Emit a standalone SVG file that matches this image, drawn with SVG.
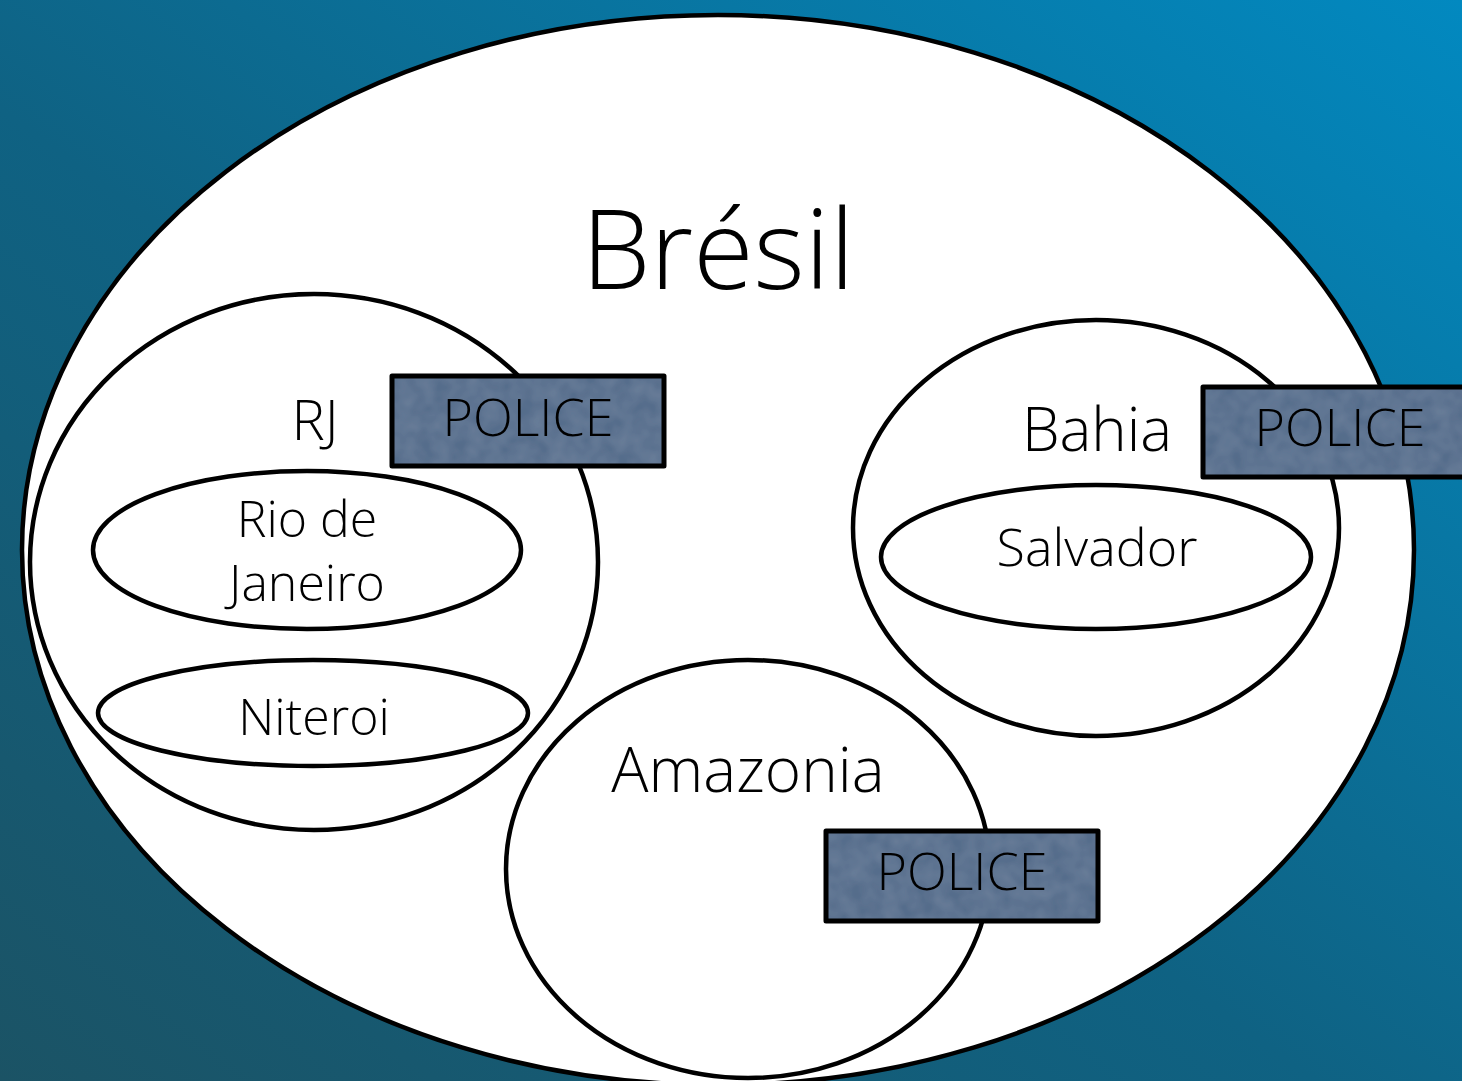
<svg xmlns="http://www.w3.org/2000/svg" width="1462" height="1081" viewBox="0 0 1462 1081">
<defs>
<linearGradient id="bg" x1="0" y1="1" x2="1" y2="0">
<stop offset="0" stop-color="#1b5365"/>
<stop offset="0.45" stop-color="#0f6283"/>
<stop offset="1" stop-color="#0289c0"/>
</linearGradient>
<filter id="tex" x="0" y="0" width="100%" height="100%">
<feTurbulence type="fractalNoise" baseFrequency="0.06" numOctaves="2" seed="3" result="n"/>
<feColorMatrix in="n" type="matrix" values="0 0 0 0 0.36  0 0 0 0 0.45  0 0 0 0 0.58  0 0 0 0.25 0" result="c"/>
<feComposite in="c" in2="SourceGraphic" operator="in" result="t"/>
<feMerge><feMergeNode in="SourceGraphic"/><feMergeNode in="t"/></feMerge>
</filter>
<style>
.reg{fill:#fff;stroke:#000;stroke-width:4.5}
.polf{fill:#4f6787}
.pols{fill:none;stroke:#000;stroke-width:5;stroke-linejoin:round}
text{font-family:"Open Sans","Liberation Sans",sans-serif;font-weight:300;fill:#000;text-anchor:middle}
</style>
</defs>
<rect width="1462" height="1081" fill="url(#bg)"/>
<g id="bresil">
<ellipse class="reg" cx="718" cy="550" rx="696" ry="535"/>
<text x="718" y="289" font-size="110">Brésil</text>
</g>
<g id="rj">
<ellipse class="reg" cx="314" cy="562" rx="284" ry="268"/>
<text x="315" y="440" font-size="56">RJ</text>
</g>
<g id="rio">
<ellipse class="reg" cx="307" cy="550" rx="214" ry="79"/>
<text x="307" y="537" font-size="50">Rio de</text>
<text x="307" y="601" font-size="50">Janeiro</text>
</g>
<g id="niteroi">
<ellipse class="reg" cx="313" cy="713" rx="215" ry="53"/>
<text x="314" y="735" font-size="50">Niteroi</text>
</g>
<g id="police-rj">
<rect class="polf" x="392" y="376" width="272" height="90" filter="url(#tex)"/>
<rect class="pols" x="392" y="376" width="272" height="90"/>
<text x="528" y="436" font-size="52">POLICE</text>
</g>
<g id="bahia">
<ellipse class="reg" cx="1096" cy="528" rx="243" ry="208"/>
<text x="1097" y="451" font-size="60">Bahia</text>
</g>
<g id="salvador">
<ellipse class="reg" cx="1096" cy="557" rx="215" ry="72"/>
<text x="1097" y="566" font-size="52">Salvador</text>
</g>
<g id="police-bahia">
<rect class="polf" x="1203" y="387" width="275" height="90" filter="url(#tex)"/>
<rect class="pols" x="1203" y="387" width="275" height="90"/>
<text x="1340" y="446" font-size="52">POLICE</text>
</g>
<g id="amazonia">
<ellipse class="reg" cx="748" cy="869" rx="242" ry="209"/>
<text x="748" y="792" font-size="62">Amazonia</text>
</g>
<g id="police-amazonia">
<rect class="polf" x="826" y="831" width="272" height="90" filter="url(#tex)"/>
<rect class="pols" x="826" y="831" width="272" height="90"/>
<text x="962" y="890" font-size="52">POLICE</text>
</g>
<g id="connectors"/>
</svg>
